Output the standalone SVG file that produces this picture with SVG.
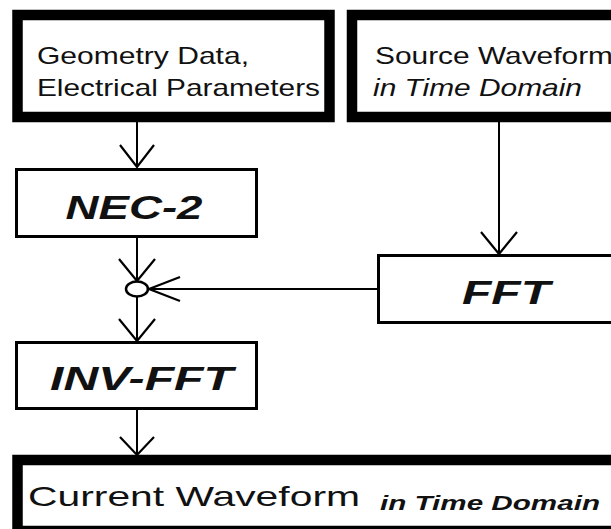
<svg xmlns="http://www.w3.org/2000/svg" width="611" height="529" viewBox="0 0 611 529">
  <style>
    .io { fill: #fff; stroke: #000; stroke-width: 10.5; }
    .proc { fill: #fff; stroke: #000; stroke-width: 3; }
    .wire { fill: none; stroke: #000; stroke-width: 2; }
    .head { fill: none; stroke: #000; stroke-width: 2.2; stroke-linejoin: miter; }
    .lbl { font-family: "Liberation Sans", Arial, sans-serif; fill: #111; }
    .reg { font-size: 24px; }
    .it { font-size: 24px; font-style: italic; }
    .blk { font-weight: bold; font-style: italic; }
  </style>

  <rect width="611" height="529" fill="#fff"/>

  <!-- input: geometry / electrical data -->
  <g id="geometry">
    <rect class="io" x="17.5" y="15" width="312" height="102"/>
    <text class="lbl reg" x="37" y="64" textLength="212" lengthAdjust="spacingAndGlyphs">Geometry Data,</text>
    <text class="lbl reg" x="37" y="96" textLength="283" lengthAdjust="spacingAndGlyphs">Electrical Parameters</text>
  </g>

  <!-- input: source waveform -->
  <g id="source">
    <rect class="io" x="352" y="15" width="300" height="102"/>
    <text class="lbl reg" x="375" y="64" textLength="238" lengthAdjust="spacingAndGlyphs">Source Waveform</text>
    <text class="lbl it" x="373" y="96" textLength="209" lengthAdjust="spacingAndGlyphs">in Time Domain</text>
  </g>

  <!-- NEC-2 solver -->
  <g id="nec2">
    <rect class="proc" x="16.5" y="169.5" width="240" height="67"/>
    <text class="lbl blk" x="134" y="219" font-size="33" text-anchor="middle" textLength="137" lengthAdjust="spacingAndGlyphs">NEC-2</text>
  </g>

  <!-- FFT of the source -->
  <g id="fft">
    <rect class="proc" x="378.5" y="255.5" width="260" height="67"/>
    <text class="lbl blk" x="506" y="304" font-size="33" text-anchor="middle" textLength="88" lengthAdjust="spacingAndGlyphs">FFT</text>
  </g>

  <!-- product junction -->
  <g id="junction">
    <ellipse cx="137" cy="289" rx="11" ry="7.5" fill="#fff" stroke="#000" stroke-width="2.5"/>
  </g>

  <!-- inverse FFT -->
  <g id="invfft">
    <rect class="proc" x="16.5" y="342.5" width="240" height="66"/>
    <text class="lbl blk" x="141.5" y="390" font-size="34" text-anchor="middle" textLength="183" lengthAdjust="spacingAndGlyphs">INV-FFT</text>
  </g>

  <!-- output: current waveform -->
  <g id="current">
    <rect class="io" x="17.5" y="460" width="620" height="71"/>
    <text class="lbl" x="28" y="506" font-size="28" textLength="332" lengthAdjust="spacingAndGlyphs">Current Waveform</text>
    <text class="lbl blk" x="380" y="510" font-size="21" textLength="220" lengthAdjust="spacingAndGlyphs">in Time Domain</text>
  </g>

  <!-- connectors -->
  <g id="connectors">
    <line class="wire" x1="137" y1="122" x2="137" y2="167"/>
    <polyline class="head" points="120,145 137,167 154,145"/>

    <line class="wire" x1="137" y1="238" x2="137" y2="281"/>
    <polyline class="head" points="119,259 137,281 155,259"/>

    <line class="wire" x1="137" y1="297" x2="137" y2="341"/>
    <polyline class="head" points="119,319 137,341 155,319"/>

    <line class="wire" x1="137" y1="410" x2="137" y2="455"/>
    <polyline class="head" points="120,437 137,455 154,437"/>

    <line class="wire" x1="499" y1="122" x2="499" y2="254"/>
    <polyline class="head" points="481,232 499,254 517,232"/>

    <line class="wire" x1="377" y1="289" x2="149" y2="289"/>
    <polyline class="head" points="180,277 149,289 180,301"/>
  </g>
</svg>
